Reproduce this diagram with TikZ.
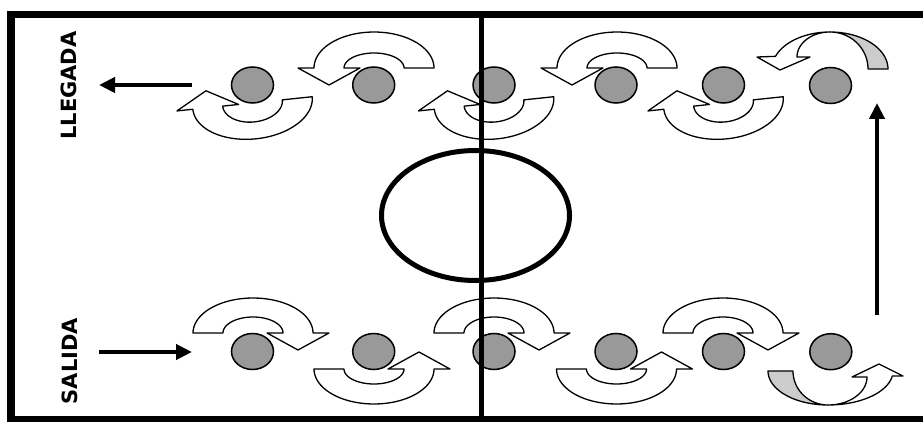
\documentclass[tikz,border=0pt]{standalone}
\usepackage{fontspec}
\setmainfont{DejaVu Sans}
\usetikzlibrary{arrows.meta,shapes.geometric}
\tikzset{
  band/.style={draw=black, line width=1.3pt, fill=white, line join=round},
  bandgray/.style={draw=black, line width=1.3pt, fill=black!20, line join=round},
  ballnode/.style={ellipse, draw=black, line width=1.5pt, fill=black!40,
    minimum width=42pt, minimum height=36pt, inner sep=0pt},
  borderline/.style={line width=7.5pt},
  heavyline/.style={line width=5pt},
  runarrow/.style={line width=4.5pt, -{Triangle[length=16pt,width=15pt]}},
  sidetext/.style={font=\fontsize{21}{21}\selectfont\bfseries, rotate=90, inner sep=0pt}
}
% curved band arrow: Ex, Ey, xscale, yscale, rotate, outer ry, inner ry
\newcommand{\bandarrow}[7]{%
  \begin{scope}[shift={(#1,#2)}, xscale=#3, yscale=#4, rotate=#5]
    \draw[band] (60,0) -- (30,0)
      -- plot[domain=0:180, samples=46, variable=\t] ({30*cos(\t)},{#7*sin(\t)})
      -- (-14,0) -- (-45,-17) -- (-76,0)
      -- plot[domain=0:180, samples=46, variable=\t] ({-60*cos(\t)},{#6*sin(\t)})
      -- cycle;
  \end{scope}}
\begin{document}
\begin{tikzpicture}[x=1pt, y=-1pt]
  \useasboundingbox (0,0) rectangle (923,422);
  \clip (0,0) rectangle (923,422);
  \fill[white] (0,0) rectangle (923,422);

  % frame
  \draw[borderline] (11.2,14.7) rectangle (940,419.6);

  % centre circle
  \draw[heavyline] (475.5,215.5) ellipse [x radius=94, y radius=65];

  % top row arrows
  \bandarrow{252.5}{103}{1}{1}{6}{36}{19}
  \bandarrow{494}{103}{1}{1}{6}{36}{19}
  \bandarrow{723.5}{103}{1}{1}{6}{36}{19}
  \bandarrow{374}{68}{1}{-1}{0}{36}{15}
  \bandarrow{617}{68}{1}{-1}{0}{36}{15}

  % bottom row arrows
  \bandarrow{253}{333}{-1}{-1}{0}{35}{16}
  \bandarrow{494}{333}{-1}{-1}{0}{35}{16}
  \bandarrow{723}{333}{-1}{-1}{0}{35}{16}
  \bandarrow{374}{369}{-1}{1}{0}{35}{15}
  \bandarrow{616.5}{369}{-1}{1}{0}{35}{15}

  % top right turning arrow
  \begin{scope}[shift={(830,69)}]
    \draw[bandgray] (58,0)
      -- plot[domain=0:90, samples=31, variable=\t] ({58*cos(\t)},{-37*sin(\t)})
      -- plot[domain=0:90, samples=31, variable=\t] ({38*sin(\t)},{-37*cos(\t)})
      -- cycle;
    \draw[band] (0,-37)
      -- plot[domain=0:70, samples=25, variable=\t] ({58*cos(90+\t)},{-37*sin(90+\t)})
      -- (-73,-12) -- (-50,1) -- (-20,-12) -- (-33,-12)
      -- plot[domain=0:90, samples=31, variable=\t] ({-33*cos(\t)},{-12-25*sin(\t)})
      -- cycle;
  \end{scope}

  % bottom right turning arrow
  \begin{scope}[shift={(828,371)}]
    \draw[bandgray] (-60,0)
      -- plot[domain=0:90, samples=31, variable=\t] ({-60*cos(\t)},{34*sin(\t)})
      -- plot[domain=0:90, samples=31, variable=\t] ({-35*sin(\t)},{34*cos(\t)})
      -- cycle;
    \draw[band] (0,34)
      -- plot[domain=0:81.5, samples=28, variable=\t] ({65*sin(\t)},{34*cos(\t)})
      -- (75,5) -- (51,-7) -- (24,6) -- (39,6)
      -- plot[domain=0:90, samples=31, variable=\t] ({39*cos(\t)},{6+28*sin(\t)})
      -- cycle;
  \end{scope}

  % players
  \node[ballnode] (t1) at (252.5,85) {};
  \node[ballnode] (t2) at (373.7,85) {};
  \node[ballnode] (t3) at (494,85) {};
  \node[ballnode] (t4) at (616,85) {};
  \node[ballnode] (t5) at (723.5,85) {};
  \node[ballnode] (t6) at (830.5,85.5) {};
  \node[ballnode] (b1) at (252.5,351.5) {};
  \node[ballnode] (b2) at (373.7,351.5) {};
  \node[ballnode] (b3) at (494,351.5) {};
  \node[ballnode] (b4) at (616,351.5) {};
  \node[ballnode] (b5) at (723.5,351.5) {};
  \node[ballnode] (b6) at (830.8,351.7) {};

  % half-way line
  \coordinate (mtop) at (481,14.7);
  \coordinate (mbot) at (481,419.6);
  \draw[heavyline] (mtop) -- (mbot);

  % direction arrows
  \coordinate (la) at (192,85);
  \coordinate (lb) at (99,85);
  \draw[runarrow] (la) -- (lb);
  \coordinate (sa) at (99,352);
  \coordinate (sb) at (192,352);
  \draw[runarrow] (sa) -- (sb);
  \coordinate (ra) at (877,315);
  \coordinate (rb) at (877,103);
  \draw[runarrow] (ra) -- (rb);

  % labels
  \node[sidetext] (llegada) at (69,85.5) {LLEGADA};
  \node[sidetext] (salida) at (70,361) {SALIDA};
\end{tikzpicture}
\end{document}
